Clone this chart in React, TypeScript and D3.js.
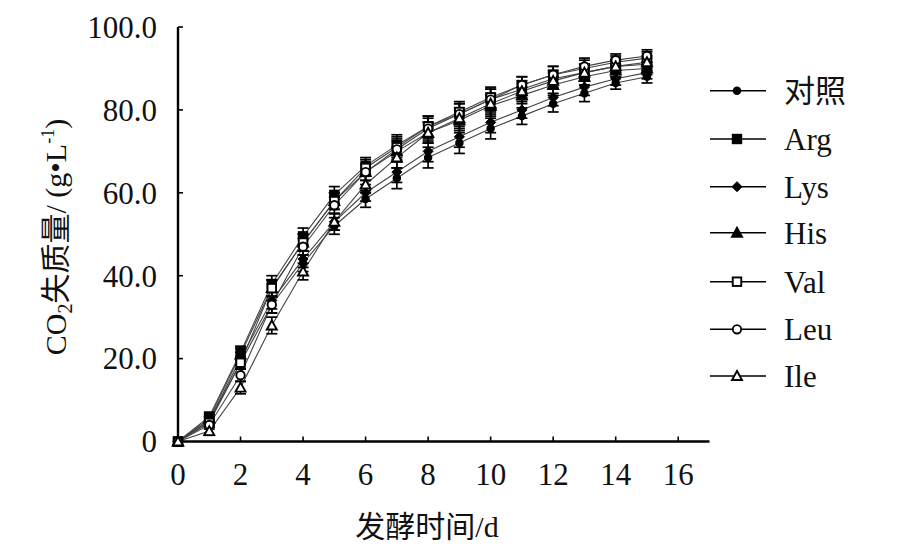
import React from "react";
import * as d3 from "d3";

const days = [0, 1, 2, 3, 4, 5, 6, 7, 8, 9, 10, 11, 12, 13, 14, 15];
const seriesNames = ["对照", "Arg", "Lys", "His", "Val", "Leu", "Ile"];
const ctrlValues = [0, 5, 19, 33, 43, 52, 58.5, 63.5, 68.5, 72, 75.5, 78.5, 81.5, 84, 86.5, 88];
const argValues = [0, 6, 21.5, 38, 49.5, 59.5, 66.5, 71.5, 76, 79, 82.5, 85, 87.5, 89, 90.5, 91];
const lysValues = [0, 5, 20, 34, 44, 53, 60, 65, 70, 73.5, 77, 80, 83, 85.5, 87.5, 89];
const hisValues = [0, 5.5, 21, 37, 48, 58, 65, 70, 74.5, 77.5, 81, 83.5, 86, 88, 89.5, 90];
const valValues = [0, 4.5, 19, 37, 48, 58, 66, 71, 76, 79.5, 83, 86, 88.5, 90, 91.5, 92.5];
const leuValues = [0, 4, 16, 33, 47, 57, 65, 70.5, 75.5, 79, 82.5, 86, 88.5, 90.5, 92, 93];
const ileValues = [0, 2.5, 13, 28, 41, 53, 62, 68.5, 74.5, 78, 81.5, 84.5, 87, 89, 90.5, 91.5];
const errValues = [0, 1, 1.5, 2, 2, 2, 2, 2.5, 2.5, 2.5, 2.5, 2, 2, 2, 1.5, 1.5];
const xTicks = [0, 2, 4, 6, 8, 10, 12, 14, 16];
const yTicks = [0, 20, 40, 60, 80, 100];

const allValues = [ctrlValues, argValues, lysValues, hisValues, valValues, leuValues, ileValues];
const markerTypes = ["circle-f", "square-f", "diamond-f", "triangle-f", "square-o", "circle-o", "triangle-o"];

const FONT = "'Liberation Serif', 'Times New Roman', 'Noto Sans CJK SC', serif";

function Marker({ type, x, y }: { type: string; x: number; y: number }) {
  const filled = type.endsWith("-f");
  const fill = filled ? "#000" : "#fff";
  const stroke = "#000";
  const sw = 1.9;
  if (type.startsWith("circle")) {
    return <circle cx={x} cy={y} r={filled ? 3.3 : 4.2} fill={fill} stroke={stroke} strokeWidth={sw} />;
  }
  if (type.startsWith("square")) {
    const s = 8.5;
    return <rect x={x - s / 2} y={y - s / 2} width={s} height={s} fill={fill} stroke={stroke} strokeWidth={sw} />;
  }
  if (type.startsWith("diamond")) {
    const s = 5;
    return <path d={`M${x},${y - s}L${x + s},${y}L${x},${y + s}L${x - s},${y}Z`} fill={fill} stroke={stroke} strokeWidth={1} />;
  }
  const s = 5;
  return <path d={`M${x},${y - s}L${x + s},${y + s * 0.8}L${x - s},${y + s * 0.8}Z`} fill={fill} stroke={stroke} strokeWidth={sw} />;
}

export default function App() {
  const W = 917, H = 555;
  const x = d3.scaleLinear().domain([0, 17]).range([178, 709.5]);
  const y = d3.scaleLinear().domain([0, 100]).range([441.5, 27]);
  const line = d3.line<number>().x((_, i) => x(days[i])).y((v) => y(v));

  const legendY = [90.7, 139, 186.7, 232.7, 281.7, 329.3, 376];

  return (
    <div style={{ position: "absolute", left: 0, top: 0 }}>
      <svg width={W} height={H} style={{ display: "block", background: "#fff" }} fontFamily={FONT}>
        {/* axes */}
        <line x1={x(0)} x2={x(0)} y1={y(0)} y2={y(100)} stroke="#000" strokeWidth={2.4} />
        <line x1={x(0)} x2={x(17)} y1={y(0)} y2={y(0)} stroke="#000" strokeWidth={2.4} />
        {yTicks.map((t) => (
          <g key={"y" + t}>
            <line x1={x(0)} x2={x(0) + 5} y1={y(t)} y2={y(t)} stroke="#000" strokeWidth={1.6} />
            <text x={157} y={y(t)} dy="0.35em" textAnchor="end" fontSize={31} fill="#111">
              {t === 0 ? "0" : t.toFixed(1)}
            </text>
          </g>
        ))}
        {xTicks.map((t) => (
          <g key={"x" + t}>
            <line x1={x(t)} x2={x(t)} y1={y(0)} y2={y(0) - 5} stroke="#000" strokeWidth={1.6} />
            <text x={x(t)} y={485} textAnchor="middle" fontSize={31} fill="#111">
              {t}
            </text>
          </g>
        ))}
        {/* lines */}
        {allValues.map((vals, si) => (
          <path key={"l" + si} d={line(vals) || ""} fill="none" stroke="#444" strokeWidth={1.1} />
        ))}
        {/* error bars */}
        {allValues.map((vals, si) =>
          vals.map((v, i) =>
            errValues[i] > 0 ? (
              <g key={`e${si}-${i}`} stroke="#000" strokeWidth={1.7}>
                <line x1={x(days[i])} x2={x(days[i])} y1={y(v - errValues[i])} y2={y(v + errValues[i])} />
                <line x1={x(days[i]) - 5.5} x2={x(days[i]) + 5.5} y1={y(v - errValues[i])} y2={y(v - errValues[i])} />
                <line x1={x(days[i]) - 5.5} x2={x(days[i]) + 5.5} y1={y(v + errValues[i])} y2={y(v + errValues[i])} />
              </g>
            ) : null
          )
        )}
        {/* markers */}
        {allValues.map((vals, si) =>
          vals.map((v, i) => <Marker key={`m${si}-${i}`} type={markerTypes[si]} x={x(days[i])} y={y(v)} />)
        )}
        {/* legend */}
        {seriesNames.map((name, si) => (
          <g key={"lg" + si}>
            <line x1={710} x2={766} y1={legendY[si]} y2={legendY[si]} stroke="#000" strokeWidth={1.5} />
            <Marker type={markerTypes[si]} x={737} y={legendY[si]} />
            <text x={784} y={legendY[si]} dy="0.35em" fontSize={31} fill="#111">
              {name}
            </text>
          </g>
        ))}
        {/* axis titles */}
        <text x={427} y={537} textAnchor="middle" fontSize={30} fill="#111">
          发酵时间/d
        </text>
        <text transform="translate(66,237) rotate(-90)" textAnchor="middle" fontSize={30} fill="#111">
          CO<tspan fontSize={20} dy={6}>2</tspan>
          <tspan dy={-6}>失质量/ (g•L</tspan>
          <tspan fontSize={18} dy={-12}>-1</tspan>
          <tspan dy={12}>)</tspan>
        </text>
      </svg>
    </div>
  );
}
